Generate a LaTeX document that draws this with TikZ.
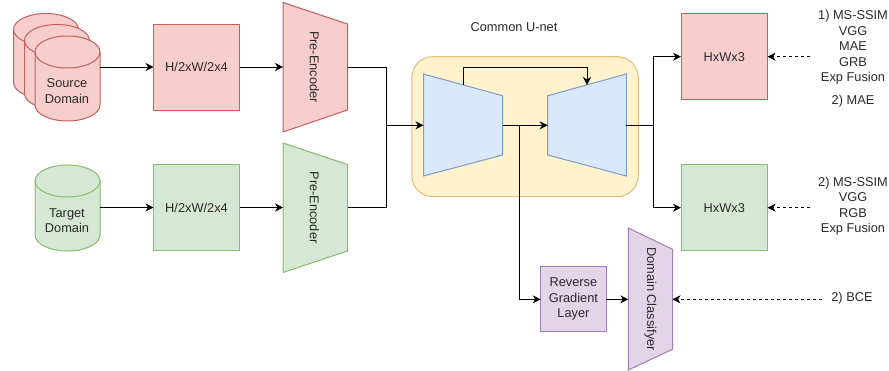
\documentclass[tikz,border=0pt]{standalone}
\usepackage{fontspec}
\setmainfont{Liberation Sans}
\usetikzlibrary{arrows.meta}
\definecolor{redF}{HTML}{F8CECC}\definecolor{redD}{HTML}{C2605C}
\definecolor{greenF}{HTML}{D5E8D4}\definecolor{greenD}{HTML}{8ABB6E}
\definecolor{blueF}{HTML}{DAE8FC}\definecolor{blueD}{HTML}{7C9CCB}
\definecolor{purpF}{HTML}{E1D5E7}\definecolor{purpD}{HTML}{A080B0}
\definecolor{yelF}{HTML}{FFF2CC}\definecolor{yelD}{HTML}{DDC070}
\definecolor{txt}{HTML}{2A2A2A}
\tikzset{
  x=1pt,y=-1pt,
  every node/.style={font=\fontsize{12.8}{15.5}\selectfont,text=txt,align=center,inner sep=0pt,outer sep=0pt},
  redS/.style={fill=redF,draw=redD,line width=1pt,line join=miter},
  greenS/.style={fill=greenF,draw=greenD,line width=1pt},
  blueS/.style={fill=blueF,draw=blueD,line width=1pt},
  purpS/.style={fill=purpF,draw=purpD,line width=1pt},
  yelS/.style={fill=yelF,draw=yelD,line width=1pt},
  conn/.style={draw=black,line width=0.9pt,-{Stealth[length=8pt,width=8pt,inset=2.5pt]}},
  plain/.style={draw=black,line width=0.9pt},
  dashconn/.style={draw=black,line width=0.9pt,dash pattern=on 3pt off 3pt,-{Stealth[length=8pt,width=8pt,inset=2.5pt]}},
}
% cyl: x0, x1, y0, y1, style
\newcommand{\mycyl}[5]{%
  \path[#5] (#1,#3+16) -- (#1,#4-16) arc[start angle=180,end angle=360,x radius={(#2-#1)/2},y radius=-16]
     -- (#2,#3+16) arc[start angle=0,end angle=180,x radius={(#2-#1)/2},y radius=-16] -- cycle;
  \path[#5,fill=none] (#1,#3+16) arc[start angle=180,end angle=360,x radius={(#2-#1)/2},y radius=-16];
}
% trapezoid: name, x0, x1, left top, left bottom, right top, right bottom, style
\newcommand{\mytrap}[8]{%
  \path[#8] (#2,#4) -- (#3,#6) -- (#3,#7) -- (#2,#5) -- cycle;
  \node[minimum width={#3-#2},minimum height={max(#5-#4,#7-#6)}] (#1) at ({(#2+#3)/2},{(#4+#5+#6+#7)/4}) {};
}
\begin{document}
\begin{tikzpicture}
\useasboundingbox (0,0) rectangle (889,370);
\fill[white] (0,0) rectangle (889,370);

% source cylinders
\mycyl{13.5}{78.5}{13.5}{98.5}{redS}
\mycyl{24.5}{89.5}{24.5}{109.5}{redS}
\mycyl{35}{100}{36}{121}{redS}
\node[minimum width=65pt,minimum height=85pt] (src) at (67.5,78.5) {};
\node (srcT) at (67,91) {Source\\Domain};
% target cylinder
\mycyl{35}{100}{165}{251}{greenS}
\node[minimum width=65pt,minimum height=86pt] (tgt) at (67.5,208) {};
\node (tgtT) at (67,220.5) {Target\\Domain};

% boxes
\node[redS,minimum width=86pt,minimum height=86pt] (b1) at (196.5,67) {H/2xW/2x4};
\node[greenS,minimum width=86pt,minimum height=86pt] (b2) at (196.5,207.5) {H/2xW/2x4};

% pre-encoders
\mytrap{pe1}{283}{347.5}{2.5}{132}{24}{110}{redS}
\node[rotate=-90] (pe1T) at (314.5,67) {Pre-Encoder};
\mytrap{pe2}{283}{347.5}{143}{272.5}{164.5}{251}{greenS}
\node[rotate=-90] (pe2T) at (314.5,207.5) {Pre-Encoder};

% U-net
\node[yelS,rounded corners=21pt,minimum width=226.5pt,minimum height=140pt] (unet) at (525,126.7) {};
\node (unetT) at (514,27.5) {Common U-net};
\mytrap{enc}{423.5}{502.5}{74}{176}{95.7}{155}{blueS}
\mytrap{dec}{547.7}{626.3}{95.7}{155}{74}{176}{blueS}
\coordinate (encTop) at (463,85);
\coordinate (decTop) at (587,85);

% outputs
\node[redS,minimum width=86.5pt,minimum height=86.5pt] (o1) at (724.3,56.7) {HxWx3};
\node[greenS,minimum width=86.5pt,minimum height=86.5pt] (o2) at (724.3,207.7) {HxWx3};

% reverse gradient, classifier
\node[purpS,minimum width=65.3pt,minimum height=65.3pt] (rg) at (573.4,299.3) {Reverse\\Gradient\\Layer};
\mytrap{dc}{628.3}{672.5}{228}{370}{249.3}{349.3}{purpS}
\node[rotate=-90] (dcT) at (650.5,299) {Domain Classifyer};

% loss labels
\node (l1) at (853,47.5) {1) MS-SSIM\\VGG\\MAE\\GRB\\Exp Fusion};
\node (l1b) at (853,101.5) {2) MAE};
\node (l2) at (853,206) {2) MS-SSIM\\VGG\\RGB\\Exp Fusion};
\node (l3) at (852,298) {2) BCE};
\coordinate (d1) at (810,56.7);
\coordinate (d2) at (810,207.7);
\coordinate (d3) at (821.7,299.3);

% connectors
\draw[conn] (src.east |- b1.west) -- (b1.west);
\draw[conn] (b1.east) -- (pe1.west |- b1.east);
\draw[conn] (tgt.east |- b2.west) -- (b2.west);
\draw[conn] (b2.east) -- (pe2.west |- b2.east);
\coordinate (mg) at (386,125.3);
\draw[plain] (pe1.east |- b1.east) -| (mg);
\draw[plain] (pe2.east |- b2.east) -| (mg);
\draw[conn] (mg) -- (enc.west |- mg);
\draw[conn] (encTop) |- (463,67.3) -| (decTop);
\draw[conn] (enc.east |- mg) -- (dec.west |- mg);
\coordinate (br) at (519.3,125.3);
\draw[conn] (br) |- (rg.west);
\draw[conn] (rg.east) -- (dc.west |- rg.east);
\coordinate (os) at (653.3,125.3);
\draw[plain] (dec.east |- mg) -- (os);
\draw[conn] (os) |- (o1.west);
\draw[conn] (os) |- (o2.west);
\draw[dashconn] (d1) -- (o1.east);
\draw[dashconn] (d2) -- (o2.east);
\draw[dashconn] (d3) -- (dc.east |- d3);
\end{tikzpicture}
\end{document}
